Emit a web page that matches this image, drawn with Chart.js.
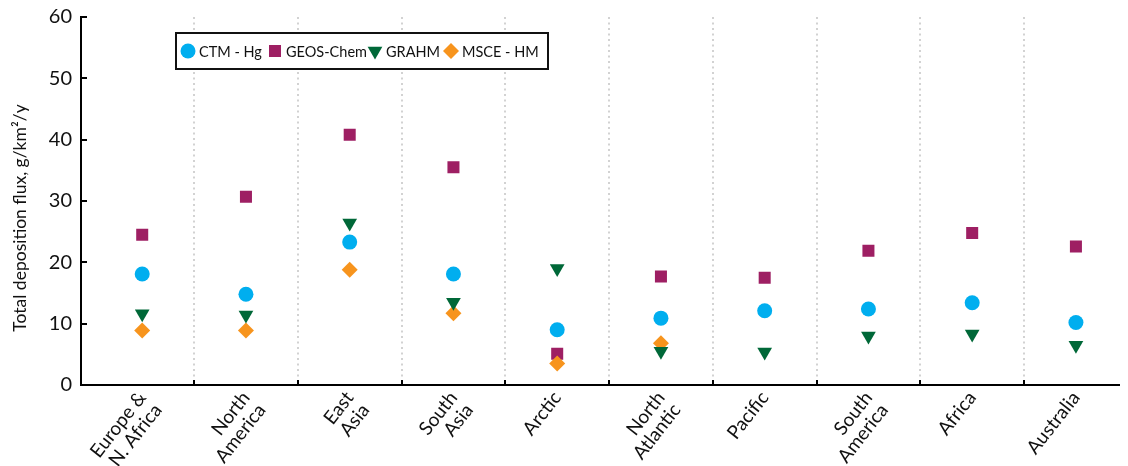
<!DOCTYPE html>
<html>
<head>
<meta charset="utf-8">
<script src="https://cdn.jsdelivr.net/npm/chart.js@4.4.1/dist/chart.umd.min.js"></script>
<style>
  html, body { margin: 0; padding: 0; background: #fff; }
  #wrap { width: 1128px; height: 466px; position: relative; }
</style>
</head>
<body>
<div id="wrap"><canvas id="flux-chart"></canvas></div>
<script>
// Regiones (etiquetas en varias líneas)
const regions = [
  ['Europe &', 'N. Africa'], ['North', 'America'], ['East', 'Asia'], ['South', 'Asia'],
  ['Arctic'], ['North', 'Atlantic'], ['Pacific'], ['South', 'America'], ['Africa'], ['Australia']
];
const yTicks = [0, 10, 20, 30, 40, 50, 60];
const yTitle = 'Total deposition flux, g/km²/y';

// Valores por modelo (g/km²/y)
const ctmHg     = [18.1, 14.8, 23.3, 18.1, 9.0, 10.9, 12.1, 12.4, 13.4, 10.2];
const geosChem  = [24.5, 30.7, 40.8, 35.5, 5.1, 17.7, 17.5, 21.9, 24.8, 22.6];
const grahm     = [11.6, 11.4, 26.4, 13.5, 19.0, 5.5, 5.4, 8.0, 8.3, 6.5];
const msceHm    = [8.9, 8.9, 18.8, 11.7, 3.5, 6.8, null, null, null, null];

const toPoints = arr => arr.map((v, i) => ({ x: i, y: v }));

const FONT = 'Lato, "Open Sans", sans-serif';

// Líneas punteadas, marcas de los ejes, título del eje y y leyenda
const decor = {
  id: 'decor',
  beforeDatasetsDraw(chart) {
    const { ctx, chartArea: a, scales: { x } } = chart;
    ctx.save();
    ctx.strokeStyle = '#c4c4c4';
    ctx.lineWidth = 1.5;
    ctx.setLineDash([2, 3.5]);
    for (let i = 0; i < regions.length - 1; i++) {
      const px = Math.round(x.getPixelForValue(i + 0.5));
      ctx.beginPath();
      ctx.moveTo(px, a.top);
      ctx.lineTo(px, a.bottom);
      ctx.stroke();
    }
    ctx.restore();
  },
  afterDraw(chart) {
    const { ctx, chartArea: a, scales: { x, y } } = chart;
    ctx.save();
    ctx.strokeStyle = '#000';
    ctx.lineWidth = 2;
    // marcas del eje x
    for (let i = 0; i < regions.length - 1; i++) {
      const px = Math.round(x.getPixelForValue(i + 0.5));
      ctx.beginPath();
      ctx.moveTo(px, a.bottom);
      ctx.lineTo(px, a.bottom - 5);
      ctx.stroke();
    }
    // marcas del eje y
    yTicks.forEach(v => {
      const py = Math.round(y.getPixelForValue(v));
      ctx.beginPath();
      ctx.moveTo(a.left, py);
      ctx.lineTo(a.left + 6, py);
      ctx.stroke();
    });

    // título del eje y
    ctx.save();
    ctx.translate(20, (a.top + a.bottom) / 2 + 17);
    ctx.rotate(-Math.PI / 2);
    ctx.fillStyle = '#111';
    ctx.font = '17.5px ' + FONT;
    ctx.textAlign = 'center';
    ctx.textBaseline = 'middle';
    ctx.fillText(yTitle, 0, 0);
    ctx.restore();

    // leyenda
    const bx = 176, by = 33, bw = 372, bh = 36;
    ctx.fillStyle = '#fff';
    ctx.fillRect(bx, by, bw, bh);
    ctx.strokeStyle = '#111';
    ctx.lineWidth = 2;
    ctx.strokeRect(bx, by, bw, bh);
    const cy = by + bh / 2;
    const itemX = [188, 275, 375, 451];
    ctx.font = '14.5px ' + FONT;
    ctx.textBaseline = 'middle';
    ctx.textAlign = 'left';
    chart.data.datasets.forEach((ds, i) => {
      ctx.fillStyle = ds.backgroundColor;
      ctx.strokeStyle = ds.backgroundColor;
      ctx.lineWidth = 0;
      Chart.helpers.drawPoint(ctx, {
        pointStyle: ds.pointStyle,
        radius: ds.pointRadius,
        rotation: ds.pointRotation || 0,
        borderWidth: 0
      }, itemX[i], cy);
      ctx.fillStyle = '#111';
      ctx.fillText(ds.label, itemX[i] + 11, cy + 1);
    });
    ctx.restore();
  }
};

const ctx = document.getElementById('flux-chart');
new Chart(ctx, {
  type: 'scatter',
  data: {
    datasets: [
      { label: 'CTM - Hg', data: toPoints(ctmHg), pointStyle: 'circle', pointRadius: 7.5,
        backgroundColor: '#00aeef', borderWidth: 0, order: 4 },
      { label: 'GEOS-Chem', data: toPoints(geosChem), pointStyle: 'rect', pointRadius: 8.5,
        backgroundColor: '#9e1f63', borderWidth: 0, order: 3 },
      { label: 'GRAHM', data: toPoints(grahm), pointStyle: 'triangle', pointRotation: 180, pointRadius: 8.5,
        backgroundColor: '#006838', borderWidth: 0, order: 1 },
      { label: 'MSCE - HM', data: toPoints(msceHm), pointStyle: 'rectRot', pointRadius: 8,
        backgroundColor: '#f7941d', borderWidth: 0, order: 2 }
    ]
  },
  options: {
    responsive: true,
    maintainAspectRatio: false,
    animation: false,
    layout: { padding: { top: 17, right: 0, bottom: 0, left: 0 } },
    plugins: {
      legend: { display: false },
      tooltip: { enabled: false }
    },
    scales: {
      x: {
        type: 'linear',
        min: -0.59,
        max: 9.42,
        afterBuildTicks: s => { s.ticks = regions.map((r, i) => ({ value: i })); },
        afterFit: s => { s.height = 81; },
        grid: { display: false, drawTicks: false },
        border: { display: true, color: '#000', width: 2 },
        ticks: {
          autoSkip: false,
          maxRotation: 52,
          minRotation: 52,
          padding: 3,
          color: '#111',
          font: { family: FONT, size: 19, lineHeight: 1.05 },
          callback: v => regions[v]
        }
      },
      y: {
        min: 0,
        max: 60,
        afterBuildTicks: s => { s.ticks = yTicks.map(v => ({ value: v })); },
        afterFit: s => { s.width = 81; s.paddingTop = 0; s.paddingBottom = 0; },
        grid: { display: false, drawTicks: false },
        border: { display: true, color: '#000', width: 2 },
        ticks: {
          padding: 9,
          color: '#111',
          font: { family: FONT, size: 20, lineHeight: 0.9 }
        }
      }
    }
  },
  plugins: [decor]
});
</script>
</body>
</html>
